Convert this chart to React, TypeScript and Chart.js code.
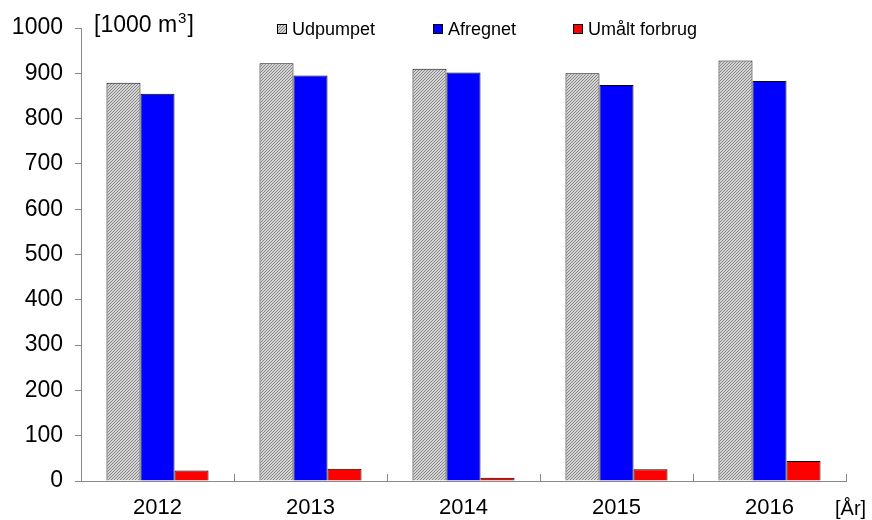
import React, { useEffect, useRef } from 'react';
import { Chart, registerables } from 'chart.js';

Chart.register(...registerables);

const years = ['2012', '2013', '2014', '2015', '2016'];
const udpumpet = [879, 922, 910, 900, 928];
const afregnet = [855, 895, 902, 874, 883];
const umaaltForbrug = [23, 27, 7, 26, 44];
const seriesLabels = ['Udpumpet', 'Afregnet', 'Umålt forbrug'];
const yUnitParts = ['[1000 m', '3', ']'];
const xUnitLabel = '[År]';

const FONT = '"Liberation Sans", Arial, sans-serif';

function makeHatch(): CanvasPattern | string {
  const c = document.createElement('canvas');
  c.width = 3;
  c.height = 3;
  const g = c.getContext('2d');
  if (!g) return '#b4b4b4';
  g.fillStyle = '#d2d2d2';
  g.fillRect(0, 0, 3, 3);
  g.fillStyle = '#8a8a8a';
  for (let i = 0; i < 3; i++) {
    g.fillRect(i, 2 - i, 1, 1);
  }
  const p = g.createPattern(c, 'repeat');
  return p || '#b4b4b4';
}

export default function App() {
  const ref = useRef<HTMLCanvasElement | null>(null);

  useEffect(() => {
    const canvas = ref.current;
    if (!canvas) return;
    const hatch = makeHatch();
    const fills: any[] = [hatch, '#0000ff', '#ff0000'];

    const decor = {
      id: 'decor',
      afterDraw(chart: any) {
        const ctx = chart.ctx;
        const xs = chart.scales.x;
        ctx.save();
        ctx.strokeStyle = '#888888';
        ctx.lineWidth = 1;
        for (let i = 0; i <= years.length; i++) {
          const x = Math.round(xs.getPixelForValue(i - 0.5)) + 0.5;
          ctx.beginPath();
          ctx.moveTo(x, chart.chartArea.bottom);
          ctx.lineTo(x, chart.chartArea.bottom - 7);
          ctx.stroke();
        }
        ctx.fillStyle = '#000';
        ctx.textBaseline = 'alphabetic';
        ctx.textAlign = 'left';
        // y unit with superscript
        let ux = 94;
        ctx.font = `23px ${FONT}`;
        ctx.fillText(yUnitParts[0], ux, 32);
        ux += ctx.measureText(yUnitParts[0]).width + 1;
        ctx.font = `15px ${FONT}`;
        ctx.fillText(yUnitParts[1], ux, 23);
        ux += ctx.measureText(yUnitParts[1]).width + 1;
        ctx.font = `23px ${FONT}`;
        ctx.fillText(yUnitParts[2], ux, 32);
        ctx.font = `20px ${FONT}`;
        ctx.fillText(xUnitLabel, 835, 515);
        const lx = [277, 433, 573];
        ctx.font = `18px ${FONT}`;
        seriesLabels.forEach((lab, i) => {
          ctx.fillStyle = fills[i];
          ctx.fillRect(lx[i], 24, 9, 9);
          ctx.strokeStyle = '#000';
          ctx.lineWidth = 1;
          ctx.strokeRect(lx[i] + 0.5, 24.5, 9, 9);
          ctx.fillStyle = '#000';
          ctx.fillText(lab, lx[i] + 15, 35);
        });
        ctx.restore();
      },
    };

    const chart = new Chart(canvas, {
      type: 'bar',
      data: {
        labels: years,
        datasets: [
          { label: seriesLabels[0], data: udpumpet, backgroundColor: hatch as any, borderColor: '#111', borderWidth: 1 },
          { label: seriesLabels[1], data: afregnet, backgroundColor: '#0000ff', borderColor: '#000', borderWidth: 1 },
          { label: seriesLabels[2], data: umaaltForbrug, backgroundColor: '#ff0000', borderColor: '#000', borderWidth: 1 },
        ],
      },
      options: {
        responsive: false,
        animation: false,
        layout: { padding: { left: 0, top: 28, right: 26, bottom: 0 } },
        datasets: { bar: { categoryPercentage: 0.667, barPercentage: 1.0 } },
        plugins: { legend: { display: false }, tooltip: { enabled: false }, title: { display: false } },
        scales: {
          x: {
            grid: { display: false },
            border: { display: true, color: '#888888', width: 1 },
            ticks: { font: { family: FONT, size: 22 }, color: '#000', padding: 6, maxRotation: 0 },
            afterFit(scale: any) { scale.height = 39; },
          },
          y: {
            min: 0,
            max: 1000,
            grid: { display: true, drawOnChartArea: false, drawTicks: true, tickLength: 6, color: '#888888' },
            border: { display: true, color: '#888888', width: 1 },
            ticks: {
              stepSize: 100,
              font: { family: FONT, size: 23 },
              color: '#000',
              padding: 12,
              callback: (v: any) => String(v),
            },
            afterFit(scale: any) { scale.width = 81; },
          },
        },
      },
      plugins: [decor],
    });
    return () => chart.destroy();
  }, []);

  return (
    <div style={{ position: 'absolute', left: 0, top: 0, width: 872, height: 520, background: '#fff' }}>
      <canvas ref={ref} width={872} height={520} />
    </div>
  );
}
